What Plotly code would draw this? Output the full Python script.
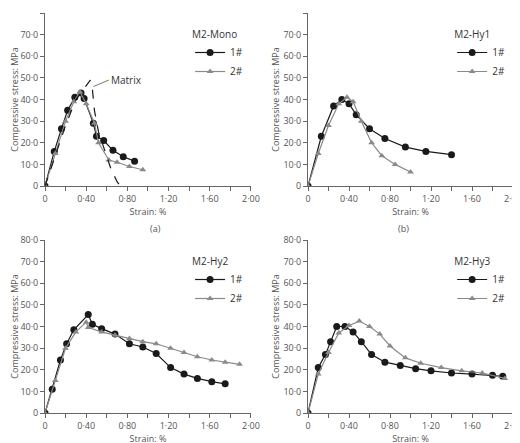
import plotly.graph_objects as go

titles = ["M2-Mono", "M2-Hy1", "M2-Hy2", "M2-Hy3"]
panel_labels = ["(a)", "(b)", "(c)", "(d)"]

a1_x = [0, 0.09, 0.16, 0.22, 0.29, 0.35, 0.38, 0.47, 0.50, 0.57, 0.66, 0.76, 0.87]
a1_y = [0, 16, 26.5, 35, 41, 43, 40.5, 29, 23, 21, 16.5, 13.5, 11.5]
a2_x = [0, 0.1, 0.2, 0.28, 0.34, 0.40, 0.48, 0.52, 0.62, 0.70, 0.82, 0.95]
a2_y = [0, 15, 30, 39, 43.5, 38, 29, 20, 12, 11, 9, 7.5]
mat_x = [0, 0.1, 0.2, 0.3, 0.38, 0.44, 0.46, 0.48, 0.52, 0.58, 0.64, 0.70, 0.73]
mat_y = [0, 14, 28, 40, 45, 49, 45, 35, 25, 16, 8, 2, 0]

b1_x = [0, 0.13, 0.25, 0.33, 0.40, 0.47, 0.60, 0.75, 0.95, 1.15, 1.40]
b1_y = [0, 23, 37, 40, 38, 33, 26.5, 22, 18, 16, 14.5]
b2_x = [0, 0.1, 0.2, 0.3, 0.38, 0.44, 0.52, 0.62, 0.72, 0.85, 1.0]
b2_y = [0, 15, 28, 38, 41, 39, 30, 20, 14, 10, 6.5]

c1_x = [0, 0.07, 0.15, 0.21, 0.28, 0.42, 0.46, 0.55, 0.68, 0.82, 0.95, 1.08, 1.22, 1.35, 1.48, 1.62, 1.75]
c1_y = [0, 11, 24.5, 32, 38.5, 45.5, 41, 39, 36.5, 32, 30.5, 27.5, 21, 18, 16, 14.5, 13.5]
c2_x = [0, 0.1, 0.2, 0.3, 0.40, 0.42, 0.55, 0.68, 0.82, 0.95, 1.08, 1.22, 1.35, 1.48, 1.62, 1.75, 1.89]
c2_y = [0, 15, 30, 37.5, 42, 39.5, 37.5, 36, 34.5, 33, 32, 30, 28, 26, 24.5, 23.5, 22.5]

d1_x = [0, 0.1, 0.17, 0.22, 0.28, 0.36, 0.44, 0.52, 0.62, 0.75, 0.90, 1.05, 1.20, 1.40, 1.60, 1.80, 1.90]
d1_y = [0, 21, 27, 33, 40, 40, 37.5, 33, 27, 23.5, 22, 20.5, 19.5, 18.5, 18, 17.5, 17]
d2_x = [0, 0.1, 0.2, 0.3, 0.4, 0.5, 0.6, 0.7, 0.8, 0.95, 1.1, 1.3, 1.5, 1.7, 1.92]
d2_y = [0, 18, 28, 37, 40.5, 42.5, 40, 36.5, 31, 25.5, 23, 21, 19.5, 18.5, 16]

x_ticks = [0, 0.4, 0.8, 1.2, 1.6, 2.0]
x_labels = ["0", "0·40", "0·80", "1·20", "1·60", "2·00"]
y_ticks = [0, 10, 20, 30, 40, 50, 60, 70, 80]
y_labels = ["0", "10·0", "20·0", "30·0", "40·0", "50·0", "60·0", "70·0", "80·0"]

series = [(a1_x, a1_y, a2_x, a2_y), (b1_x, b1_y, b2_x, b2_y),
          (c1_x, c1_y, c2_x, c2_y), (d1_x, d1_y, d2_x, d2_y)]

xdom = [(0.0, 0.44), (0.562, 1.0)]
ydom = [(0.5675, 1.0), (0.0, 0.4325)]
leg_x = [0.31, 0.87]
lab_y = [0.4825, -0.075]

fig = go.Figure()
layout = {}
for i in range(4):
    r, c = divmod(i, 2)
    n = "" if i == 0 else str(i + 1)
    xa, ya = "x" + n, "y" + n
    lg = "legend" + n
    x1, y1, x2, y2 = series[i]
    fig.add_trace(go.Scatter(x=x1, y=y1, xaxis=xa, yaxis=ya, mode="lines+markers", name="1#",
                             line=dict(color="#1a1a1a", width=1.2), marker=dict(size=7, color="#1a1a1a"),
                             legend=lg))
    fig.add_trace(go.Scatter(x=x2, y=y2, xaxis=xa, yaxis=ya, mode="lines+markers", name="2#",
                             line=dict(color="#8a8a8a", width=1.2),
                             marker=dict(size=6, symbol="triangle-up", color="#8a8a8a"), legend=lg))
    if i == 0:
        fig.add_trace(go.Scatter(x=mat_x, y=mat_y, xaxis=xa, yaxis=ya, mode="lines", showlegend=False,
                                 line=dict(color="#1a1a1a", width=1.2, dash="dash")))
    axfont = dict(family="Open Sans", size=9, color="#555")
    layout["xaxis" + n] = dict(domain=xdom[c], anchor=ya, range=[0, 2.0], tickvals=x_ticks, ticktext=x_labels,
                               ticks="outside", ticklen=4, tickcolor="#666", showline=True, linecolor="#666",
                               showgrid=False, zeroline=False, tickfont=axfont, automargin=False,
                               minor=dict(tickvals=[0.2, 0.6, 1.0, 1.4, 1.8], ticks="outside", ticklen=4, tickcolor="#666"),
                               title=dict(text="Strain: %", font=axfont, standoff=2))
    layout["yaxis" + n] = dict(domain=ydom[r], anchor=xa, range=[0, 80], tickvals=y_ticks, ticktext=y_labels,
                               ticks="outside", ticklen=4, tickcolor="#666", showline=True, linecolor="#666",
                               showgrid=False, zeroline=False, tickfont=axfont, automargin=False,
                               title=dict(text="Compressive stress: MPa", font=axfont, standoff=2))
    layout[lg] = dict(x=leg_x[c], y=ydom[r][1] - 0.03,
                      xanchor="left", yanchor="top", bgcolor="rgba(0,0,0,0)",
                      title=dict(text=titles[i], font=dict(family="Open Sans", size=10, color="#333")),
                      font=dict(family="Open Sans", size=10, color="#333"), tracegroupgap=0)
    fig.add_annotation(text=panel_labels[i], xref="paper", yref="paper",
                       x=(xdom[c][0] + xdom[c][1]) / 2, y=lab_y[r], showarrow=False,
                       yanchor="top", font=dict(family="Open Sans", size=9, color="#555"))

fig.add_annotation(text="Matrix", x=0.47, y=46, xref="x", yref="y", ax=0.62, ay=49, axref="x", ayref="y",
                   showarrow=True, arrowhead=0, arrowwidth=0.8, arrowcolor="#555", xanchor="left",
                   font=dict(family="Open Sans", size=10, color="#333"))

fig.update_layout(width=520, height=443, margin=dict(l=37, r=15, t=5, b=38, autoexpand=False),
                  plot_bgcolor="white", paper_bgcolor="white", **layout)
fig.write_html("out.html")
